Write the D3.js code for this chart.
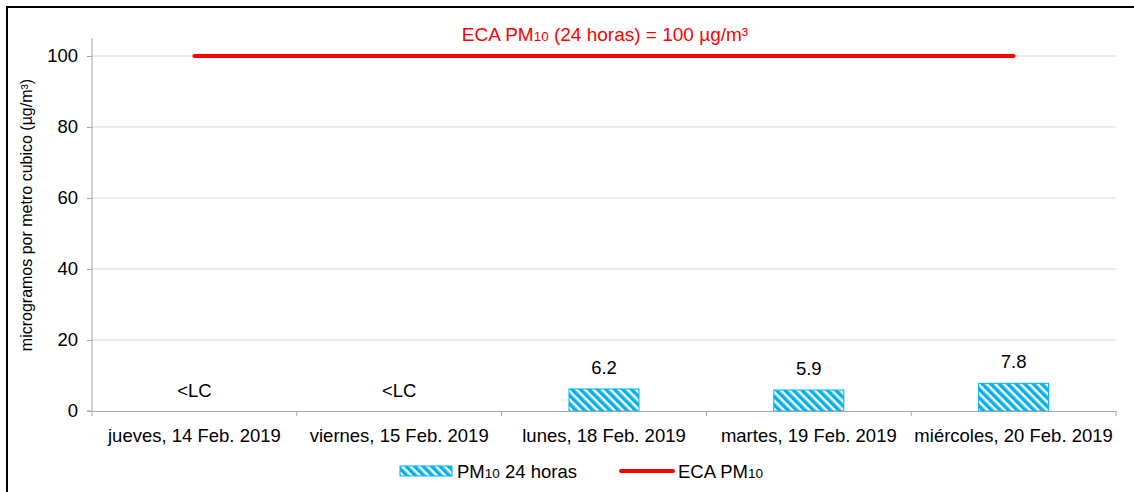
<!DOCTYPE html>
<html>
<head>
<meta charset="utf-8">
<script src="https://cdn.jsdelivr.net/npm/d3@7"></script>
<style>
body { margin: 0; background: #fff; }
text { font-family: "Liberation Sans", Arial, sans-serif; }
</style>
</head>
<body>
<div id="chart"></div>
<script>
// Data
var categories = ["jueves, 14 Feb. 2019", "viernes, 15 Feb. 2019", "lunes, 18 Feb. 2019",
    "martes, 19 Feb. 2019", "miércoles, 20 Feb. 2019"];
var pm10Values = [null, null, 6.2, 5.9, 7.8];
var valueLabels = ["<LC", "<LC", "6.2", "5.9", "7.8"];
var ecaValue = 100;
var yTicks = [0, 20, 40, 60, 80, 100];

var svgWidth = 1134;
var svgHeight = 492;

var margin = { top: 56, bottom: 81, right: 18, left: 92 };
var width = svgWidth - margin.left - margin.right;
var height = svgHeight - margin.top - margin.bottom;

var svg = d3.select("#chart")
    .append("svg")
    .attr("width", svgWidth)
    .attr("height", svgHeight);

// hatch pattern for the bars
var defs = svg.append("defs");
var pat = defs.append("pattern")
    .attr("id", "hatch")
    .attr("patternUnits", "userSpaceOnUse")
    .attr("width", 6)
    .attr("height", 6)
    .attr("patternTransform", "rotate(-45)");
pat.append("rect").attr("width", 6).attr("height", 6).attr("fill", "#fff");
pat.append("rect").attr("width", 3.5).attr("height", 6).attr("fill", "#00b0f0");

// outer frame
svg.append("rect")
    .attr("x", 7)
    .attr("y", 7)
    .attr("width", svgWidth + 10)
    .attr("height", svgHeight + 10)
    .attr("fill", "none")
    .attr("stroke", "#000")
    .attr("stroke-width", 2);

var chartGroup = svg.append("g")
    .attr("transform", `translate(${margin.left}, ${margin.top})`);

var xBand = d3.scaleBand()
    .domain(categories)
    .range([0, width]);

var yLinearScale = d3.scaleLinear()
    .domain([0, 100])
    .range([height, 0]);

// gridlines
chartGroup.selectAll(".grid")
    .data(yTicks.filter(d => d > 0))
    .enter()
    .append("line")
    .attr("x1", 0)
    .attr("x2", width)
    .attr("y1", d => yLinearScale(d))
    .attr("y2", d => yLinearScale(d))
    .attr("stroke", "#d9d9d9")
    .attr("stroke-width", 1);

// y axis
var leftAxis = d3.axisLeft(yLinearScale).tickValues(yTicks).tickSize(5).tickPadding(9);
var yAxis = chartGroup.append("g").call(leftAxis);
yAxis.select(".domain").attr("stroke", "#a6a6a6").attr("d", `M-5,${height}H0V${yLinearScale(105)}`);
yAxis.selectAll(".tick line").attr("stroke", "#a6a6a6");
yAxis.selectAll(".tick text")
    .style("font-size", "18.5px")
    .attr("fill", "#000");

// bars
var barWidth = 70;
chartGroup.selectAll(".bar")
    .data(categories.map((c, i) => ({ cat: c, v: pm10Values[i] })).filter(d => d.v !== null))
    .enter()
    .append("rect")
    .attr("x", d => xBand(d.cat) + xBand.bandwidth() / 2 - barWidth / 2)
    .attr("y", d => yLinearScale(d.v))
    .attr("width", barWidth)
    .attr("height", d => height - yLinearScale(d.v))
    .attr("fill", "url(#hatch)")
    .attr("stroke", "#00b0f0")
    .attr("stroke-width", 1);

// x axis
var bottomAxis = d3.axisBottom(xBand).tickSize(0).tickPadding(18);
var xAxis = chartGroup.append("g")
    .attr("transform", `translate(0, ${height})`)
    .call(bottomAxis);
xAxis.select(".domain").attr("stroke", "#a6a6a6");
xAxis.selectAll(".tick text")
    .style("font-size", "18.5px")
    .attr("fill", "#000");
// category separators
chartGroup.selectAll(".sep")
    .data(d3.range(categories.length + 1))
    .enter()
    .append("line")
    .attr("x1", d => d * xBand.step())
    .attr("x2", d => d * xBand.step())
    .attr("y1", height)
    .attr("y2", height + 5)
    .attr("stroke", "#a6a6a6");

// value labels
chartGroup.selectAll(".vlabel")
    .data(categories)
    .enter()
    .append("text")
    .attr("x", d => xBand(d) + xBand.bandwidth() / 2)
    .attr("y", (d, i) => pm10Values[i] === null ? height - 14 : yLinearScale(pm10Values[i]) - 15)
    .attr("text-anchor", "middle")
    .style("font-size", "18.5px")
    .text((d, i) => valueLabels[i]);

// ECA line
var first = categories[0], last = categories[categories.length - 1];
chartGroup.append("line")
    .attr("x1", xBand(first) + xBand.bandwidth() / 2)
    .attr("x2", xBand(last) + xBand.bandwidth() / 2)
    .attr("y1", yLinearScale(ecaValue))
    .attr("y2", yLinearScale(ecaValue))
    .attr("stroke", "#ff0000")
    .attr("stroke-width", 4)
    .attr("stroke-linecap", "round");

var ecaLabel = chartGroup.append("text")
    .attr("x", width / 2 + 1)
    .attr("y", yLinearScale(ecaValue) - 15)
    .attr("text-anchor", "middle")
    .attr("fill", "#ff0000")
    .style("font-size", "19px");
ecaLabel.append("tspan").text("ECA PM");
ecaLabel.append("tspan").style("font-size", "13.5px").text("10");
ecaLabel.append("tspan").text(" (24 horas) = 100 µg/m³");

// y axis label
svg.append("text")
    .attr("transform", `translate(32, 215) rotate(-90)`)
    .attr("text-anchor", "middle")
    .style("font-size", "16px")
    .text("microgramos por metro cubico  (µg/m³)");

// legend
var legend = svg.append("g").attr("transform", "translate(400, 471)");
legend.append("rect")
    .attr("x", 0).attr("y", -5)
    .attr("width", 52).attr("height", 10)
    .attr("fill", "url(#hatch)")
    .attr("stroke", "#00b0f0");
var l1 = legend.append("text").attr("x", 57).attr("y", 7).style("font-size", "18.5px");
l1.append("tspan").text("PM");
l1.append("tspan").style("font-size", "13.5px").text("10");
l1.append("tspan").text(" 24 horas");

legend.append("line")
    .attr("x1", 221).attr("x2", 273)
    .attr("y1", 0).attr("y2", 0)
    .attr("stroke", "#ff0000")
    .attr("stroke-width", 4)
    .attr("stroke-linecap", "round");
var l2 = legend.append("text").attr("x", 278).attr("y", 7).style("font-size", "18.5px");
l2.append("tspan").text("ECA PM");
l2.append("tspan").style("font-size", "13.5px").text("10");
</script>
</body>
</html>
